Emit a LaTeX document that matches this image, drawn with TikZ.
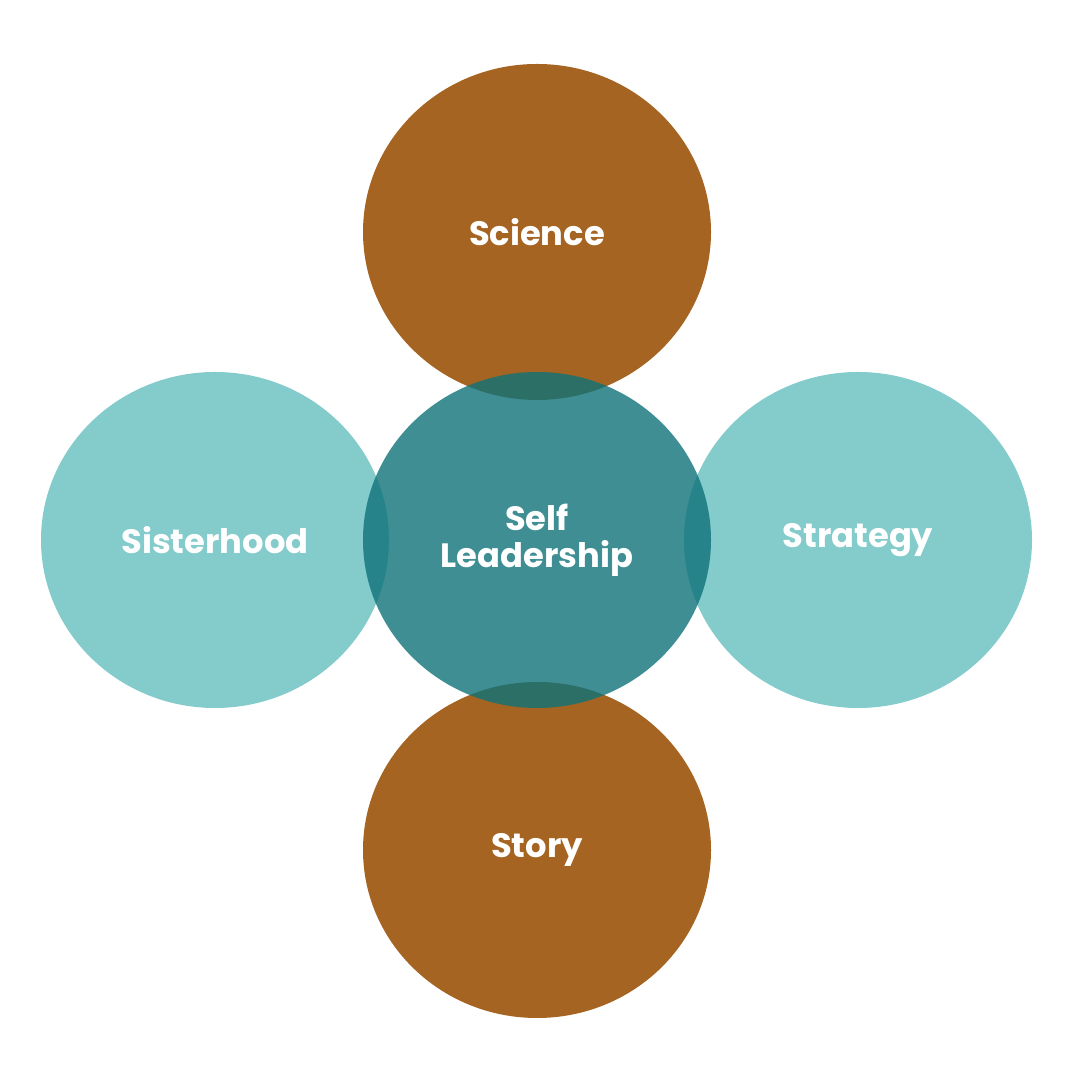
\documentclass[tikz,border=0pt]{standalone}
\usepackage{fontspec}
\setsansfont{Poppins}
\usetikzlibrary{shapes.geometric}
\definecolor{rust}{HTML}{A66422}
\definecolor{aqua}{HTML}{84CBCC}
\definecolor{core}{HTML}{0E7279}
\tikzset{ring/.style={ellipse,minimum width=34.8mm,minimum height=33.6mm,inner sep=0pt,align=center,text=white,font=\sffamily\bfseries\fontsize{9.6}{10.4}\selectfont}}
\begin{document}
\begin{tikzpicture}
\useasboundingbox (0,0) rectangle (10.8,10.8);
\node[ring,fill=rust] (sci) at (5.37,8.48) {Science};
\node[ring,fill=rust] (sto) at (5.37,2.30) {Story};
\node[ring,fill=aqua] (sis) at (2.15,5.40) {Sisterhood};
\node[ring,fill=aqua] (str) at (8.58,5.40) {Strategy};
\node[ring,fill=core,fill opacity=0.8,text opacity=1] (self) at (5.37,5.40) {Self\\Leadership};
\end{tikzpicture}
\end{document}
